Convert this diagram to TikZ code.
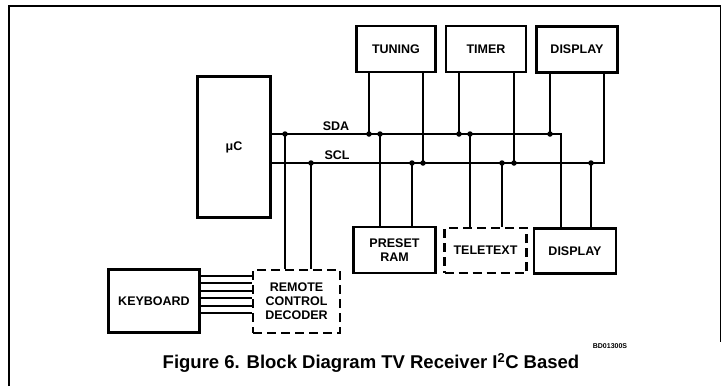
\documentclass[tikz,border=0pt]{standalone}
\usepackage{fontspec}
\setmainfont{Liberation Sans}
\begin{document}
\begin{tikzpicture}[x=1pt,y=-1pt,
  blk/.style={draw, line width=2.2pt, inner sep=0pt, align=center,
    font=\fontsize{12.5}{14}\selectfont\bfseries},
  dashblk/.style={blk, dash pattern=on 9pt off 5pt},
  wire/.style={line width=1.8pt},
  lbl/.style={font=\fontsize{12.5}{13}\selectfont\bfseries, inner sep=0pt},
  dotmark/.style={fill, circle, inner sep=0pt, minimum size=5.5pt}]
\useasboundingbox (0,0) rectangle (722,386);
% frame
\draw[line width=1.5pt] (9,386) -- (9,6) -- (720.5,6) -- (720.5,342);
% blocks
\node[blk, minimum width=73pt, minimum height=141pt] (uc) at (234,147) {μC};
\node[blk, minimum width=79pt, minimum height=46pt] (tuning) at (396,49) {TUNING};
\node[blk, minimum width=80pt, minimum height=46pt] (timer) at (486,49) {TIMER};
\node[blk, minimum width=81pt, minimum height=46pt] (disptop) at (577,49.5) {DISPLAY};
\node[blk, minimum width=82pt, minimum height=46pt] (preset) at (394.5,250) {PRESET\\RAM};
\node[dashblk, minimum width=82pt, minimum height=45pt] (teletext) at (485.5,250.5) {TELETEXT};
\node[blk, minimum width=82pt, minimum height=45pt] (dispbot) at (575,251) {DISPLAY};
\node[blk, minimum width=91pt, minimum height=63pt] (keyboard) at (154,301) {KEYBOARD};
\node[dashblk, minimum width=87pt, minimum height=63pt] (decoder) at (296.5,301.5) {REMOTE\\CONTROL\\DECODER};
% bus coordinates
\coordinate (sdaS) at (270,134);
\coordinate (sdaE) at (561,134);
\coordinate (sclS) at (270,163);
\coordinate (sclE) at (604,163);
% junctions on SDA
\coordinate (a1) at (285,134);
\coordinate (a2) at (369,134);
\coordinate (a3) at (380,134);
\coordinate (a4) at (459,134);
\coordinate (a5) at (470,134);
\coordinate (a6) at (550,134);
% junctions on SCL
\coordinate (c1) at (311,163);
\coordinate (c2) at (412,163);
\coordinate (c3) at (423,163);
\coordinate (c4) at (502,163);
\coordinate (c5) at (514,163);
\coordinate (c6) at (591,163);
% buses
\draw[wire] (uc.east |- sdaS) -- (sdaE) -- (dispbot.north -| sdaE);
\draw[wire] (uc.east |- sclS) -- (sclE) -- (disptop.south -| sclE);
\node[lbl] (sdalbl) at (336,126) {SDA};
\node[lbl] (scllbl) at (337,155) {SCL};
% taps
\draw[wire] (a1) -- (decoder.north -| a1);
\draw[wire] (c1) -- (decoder.north -| c1);
\draw[wire] (tuning.south -| a2) -- (a2);
\draw[wire] (tuning.south -| c3) -- (c3);
\draw[wire] (a3) -- (preset.north -| a3);
\draw[wire] (c2) -- (preset.north -| c2);
\draw[wire] (timer.south -| a4) -- (a4);
\draw[wire] (timer.south -| c5) -- (c5);
\draw[wire] (a5) -- (teletext.north -| a5);
\draw[wire] (c4) -- (teletext.north -| c4);
\draw[wire] (disptop.south -| a6) -- (a6);
\draw[wire] (c6) -- (dispbot.north -| c6);
\foreach \j in {a1,a2,a3,a4,a5,a6,c1,c2,c3,c4,c5,c6}
  \node[dotmark] at (\j) {};
% keyboard lines
\foreach \yy in {276,283,291,298,306,313}
  \draw[wire] (keyboard.east |- 0,\yy) -- (decoder.west |- 0,\yy);
% labels
\node[font=\fontsize{7}{8}\selectfont\bfseries, inner sep=0pt] (code) at (610,346) {BD01300S};
\node[font=\fontsize{18.5}{21}\selectfont\bfseries, inner sep=0pt] (caption) at (371,363)
  {Figure 6. Block Diagram TV Receiver I\textsuperscript{2}C Based};
\end{tikzpicture}
\end{document}
